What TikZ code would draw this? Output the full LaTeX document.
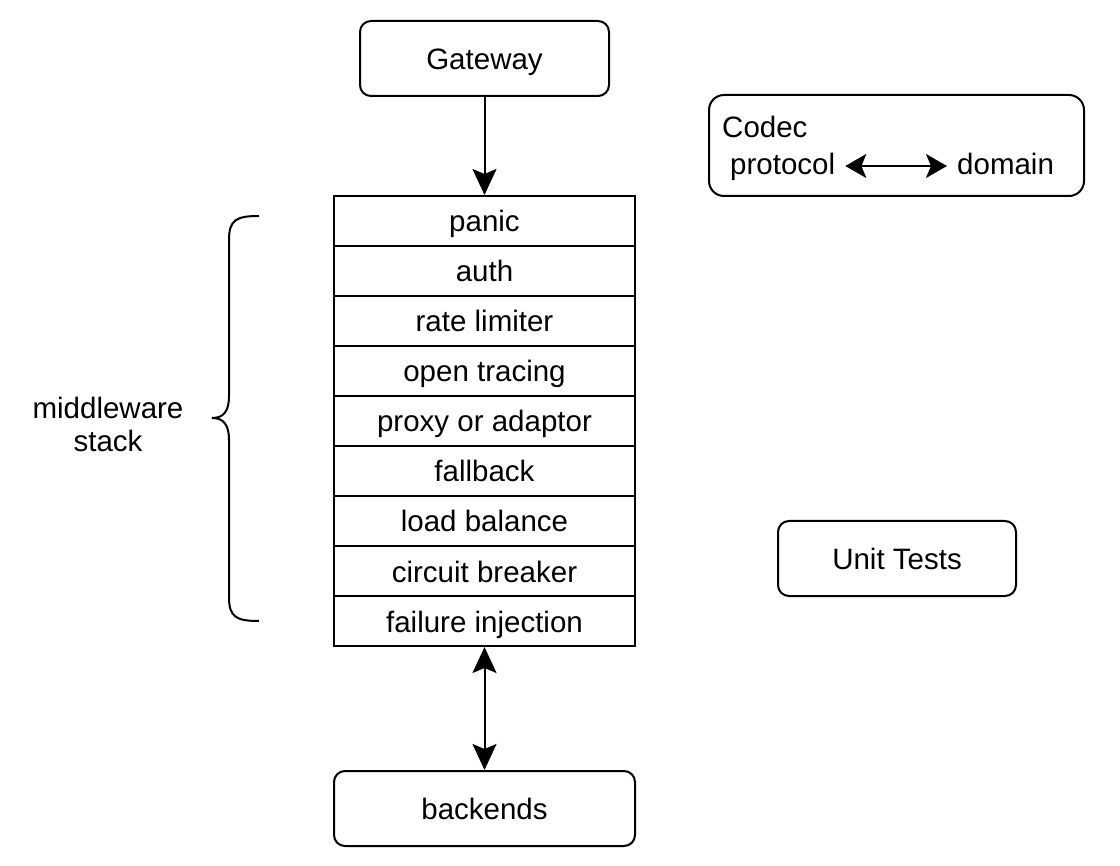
\documentclass[tikz,border=0pt]{standalone}
\usepackage{fontspec}
\setmainfont{Liberation Sans}
\usetikzlibrary{arrows.meta}
\begin{document}
\begin{tikzpicture}[x=1pt,y=-1pt,
  every node/.style={font=\fontsize{29.5}{33}\selectfont},
  lw/.style={line width=2pt},
  rbox/.style={lw,draw,rounded corners=11pt,inner sep=0pt},
  layer/.style={lw,draw,minimum width=301pt,minimum height=50pt,inner sep=0pt,text height=26pt,text depth=4pt},
  txt/.style={inner sep=0pt},
  arr/.style={lw,-{Stealth[length=26pt,width=24pt,inset=5pt]}},
  darr/.style={lw,{Stealth[length=26pt,width=24pt,inset=5pt]}-{Stealth[length=26pt,width=24pt,inset=5pt]}},
  carr/.style={lw,{Stealth[length=21pt,width=24pt,inset=5pt]}-{Stealth[length=21pt,width=24pt,inset=5pt]}},
]
\useasboundingbox (0,0) rectangle (1120,866);
\fill[white] (0,0) rectangle (1120,866);

\node[rbox,minimum width=249pt,minimum height=75pt,text height=26pt,text depth=4pt] (gateway) at (484.5,58.5) {Gateway};

\node[layer] (panic)   at (484.5,221) {panic};
\node[layer] (auth)    at (484.5,271) {auth};
\node[layer] (rate)    at (484.5,321) {rate limiter};
\node[layer] (tracing) at (484.5,371) {open tracing};
\node[layer] (proxy)   at (484.5,421) {proxy or adaptor};
\node[layer] (fallback) at (484.5,471) {fallback};
\node[layer] (lb)      at (484.5,521) {load balance};
\node[layer] (cb)      at (484.5,571) {circuit breaker};
\node[layer] (fi)      at (484.5,621) {failure injection};

\node[rbox,minimum width=301pt,minimum height=75pt,text height=26pt,text depth=4pt] (backends) at (484.5,808.5) {backends};

\draw[arr] (gateway) -- (panic);
\draw[darr] (fi) -- (backends);

% Codec box
\node[rbox,rounded corners=15pt,minimum width=375pt,minimum height=101pt] (codecbox) at (896.5,145.5) {};
\node[txt,anchor=base west] (codec) at (722,138) {Codec};
\node[txt,anchor=base west] (protocol) at (730,175) {protocol};
\node[txt,anchor=base west] (domain) at (957,175) {domain};
\draw[carr,shorten <=10pt,shorten >=10pt] ([yshift=9pt]protocol.base east) -- ([yshift=9pt]domain.base west);

% Unit tests
\node[rbox,minimum width=238pt,minimum height=75pt,text height=26pt,text depth=4pt] (unit) at (897,558.5) {Unit Tests};

% brace
\node[txt,align=center] (mw) at (108,424) {middleware\\stack};
\draw[lw] (259,216) .. controls (236,216) and (229,220) .. (229,240) -- (229,396)
  .. controls (229,412) and (223,418) .. (212,418)
  .. controls (223,418) and (229,424) .. (229,440) -- (229,597)
  .. controls (229,617) and (236,621) .. (259,621);
\end{tikzpicture}
\end{document}
